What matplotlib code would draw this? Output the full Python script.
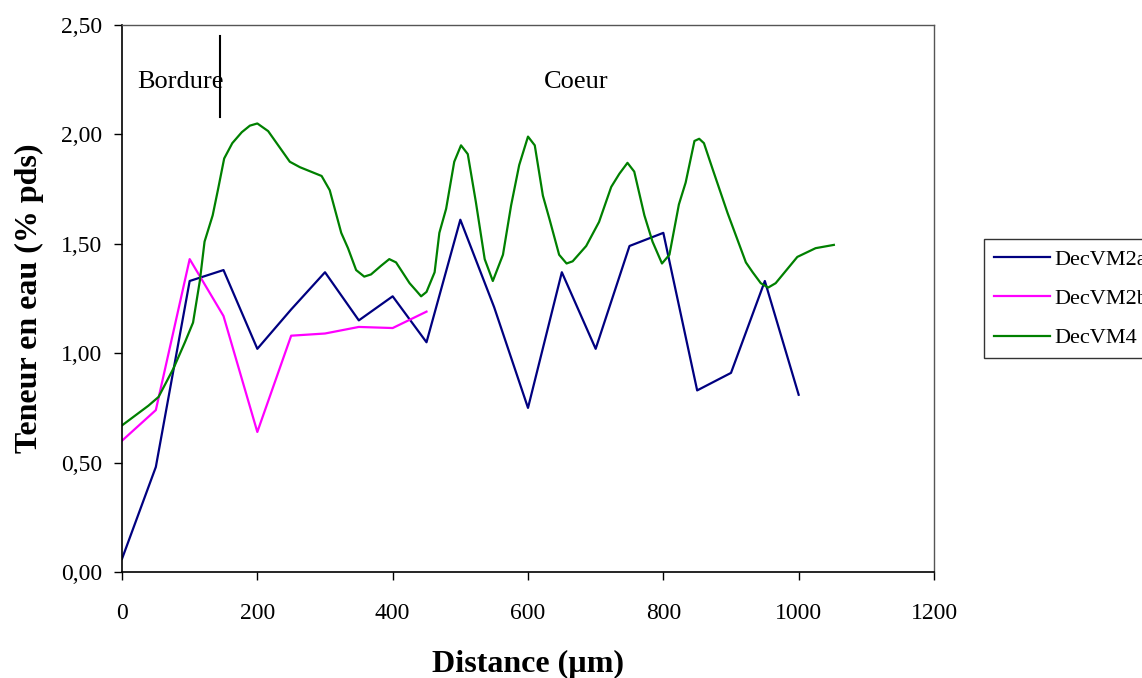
import matplotlib
matplotlib.use('Agg')
import matplotlib.pyplot as plt
from matplotlib.ticker import FuncFormatter

plt.rcParams['font.family'] = ['Liberation Serif', 'DejaVu Serif']

# DecVM2a
x_2a = [0, 50, 100, 150, 200, 250, 300, 350, 400, 450, 500, 550, 600, 650, 700, 750, 800, 850, 900, 950, 1000]
y_2a = [0.06, 0.48, 1.33, 1.38, 1.02, 1.20, 1.37, 1.15, 1.26, 1.05, 1.61, 1.21, 0.75, 1.37, 1.02, 1.49, 1.55, 0.83, 0.91, 1.33, 0.81]

# DecVM2b
x_2b = [0, 50, 100, 150, 200, 250, 300, 350, 400, 450]
y_2b = [0.60, 0.74, 1.43, 1.17, 0.64, 1.08, 1.09, 1.12, 1.115, 1.19]

# DecVM4
x_4 = [0, 39, 54, 76, 93, 105, 115, 122, 134, 142, 151, 163, 177, 189, 200, 216, 248,
       263, 295, 307, 324, 334, 346, 358, 368, 383, 395, 405, 425, 435, 442, 450, 462,
       469, 479, 491, 501, 511, 523, 536, 548, 563, 575, 587, 600, 610, 622, 632, 646,
       657, 666, 686, 705, 723, 735, 747, 757, 772, 784, 798, 809, 823, 833, 846, 853,
       860, 873, 895, 922, 932, 944, 955, 966, 998, 1025, 1052]
y_4 = [0.67, 0.76, 0.80, 0.93, 1.05, 1.14, 1.33, 1.51, 1.63, 1.75, 1.89, 1.96, 2.01, 2.04, 2.05, 2.015, 1.875,
       1.85, 1.81, 1.745, 1.55, 1.48, 1.38, 1.35, 1.36, 1.40, 1.43, 1.415, 1.32, 1.285, 1.26, 1.28, 1.37,
       1.55, 1.66, 1.875, 1.95, 1.91, 1.69, 1.43, 1.33, 1.45, 1.675, 1.86, 1.99, 1.95, 1.72, 1.61, 1.45,
       1.41, 1.42, 1.49, 1.60, 1.76, 1.82, 1.87, 1.83, 1.63, 1.51, 1.41, 1.45, 1.68, 1.78, 1.97, 1.98,
       1.96, 1.84, 1.64, 1.415, 1.37, 1.32, 1.30, 1.32, 1.44, 1.48, 1.495]

fig = plt.figure(figsize=(11.42, 6.78), dpi=100)
ax = fig.add_axes([122 / 1142, 1 - 572 / 678, (934 - 122) / 1142, (572 - 25) / 678])

ax.plot(x_2a, y_2a, color='#000080', lw=1.6, label='DecVM2a', solid_joinstyle='round')
ax.plot(x_2b, y_2b, color='#FF00FF', lw=1.6, label='DecVM2b', solid_joinstyle='round')
ax.plot(x_4, y_4, color='#008000', lw=1.6, label='DecVM4', solid_joinstyle='round')

ax.set_xlim(0, 1200)
ax.set_ylim(0, 2.5)
ax.set_xticks(range(0, 1201, 200))
ax.set_yticks([0, 0.5, 1.0, 1.5, 2.0, 2.5])
ax.yaxis.set_major_formatter(FuncFormatter(lambda v, p: ('%.2f' % v).replace('.', ',')))
ax.tick_params(direction='out', length=6, width=1, labelsize=17)
ax.tick_params(axis='x', pad=16)
ax.tick_params(axis='y', pad=8)

for s in ['top', 'right']:
    ax.spines[s].set_color('#555555')
    ax.spines[s].set_linewidth(1)
for s in ['left', 'bottom']:
    ax.spines[s].set_color('black')
    ax.spines[s].set_linewidth(1.2)

ax.set_xlabel('Distance (µm)', fontsize=23, fontweight='bold')
ax.set_ylabel('Teneur en eau (% pds)', fontsize=23, fontweight='bold')
ax.xaxis.set_label_coords(0.5, -0.143)
ax.yaxis.set_label_coords(-0.096, 0.5)

# zone markers
ax.plot([145, 145], [2.08, 2.45], color='black', lw=1.5, clip_on=False)
ax.text(23, 2.24, 'Bordure', fontsize=19, va='center', ha='left')
ax.text(623, 2.24, 'Coeur', fontsize=19, va='center', ha='left')

leg = ax.legend(loc='upper left', bbox_to_anchor=(984 / 1142, 1 - 239 / 678),
                bbox_transform=fig.transFigure, fontsize=16, frameon=True,
                fancybox=False, edgecolor='black', handlelength=2.5,
                borderaxespad=0, borderpad=0.45, labelspacing=0.85, handletextpad=0.22)
leg.get_frame().set_linewidth(1)

fig.savefig('out.png', dpi=100)
